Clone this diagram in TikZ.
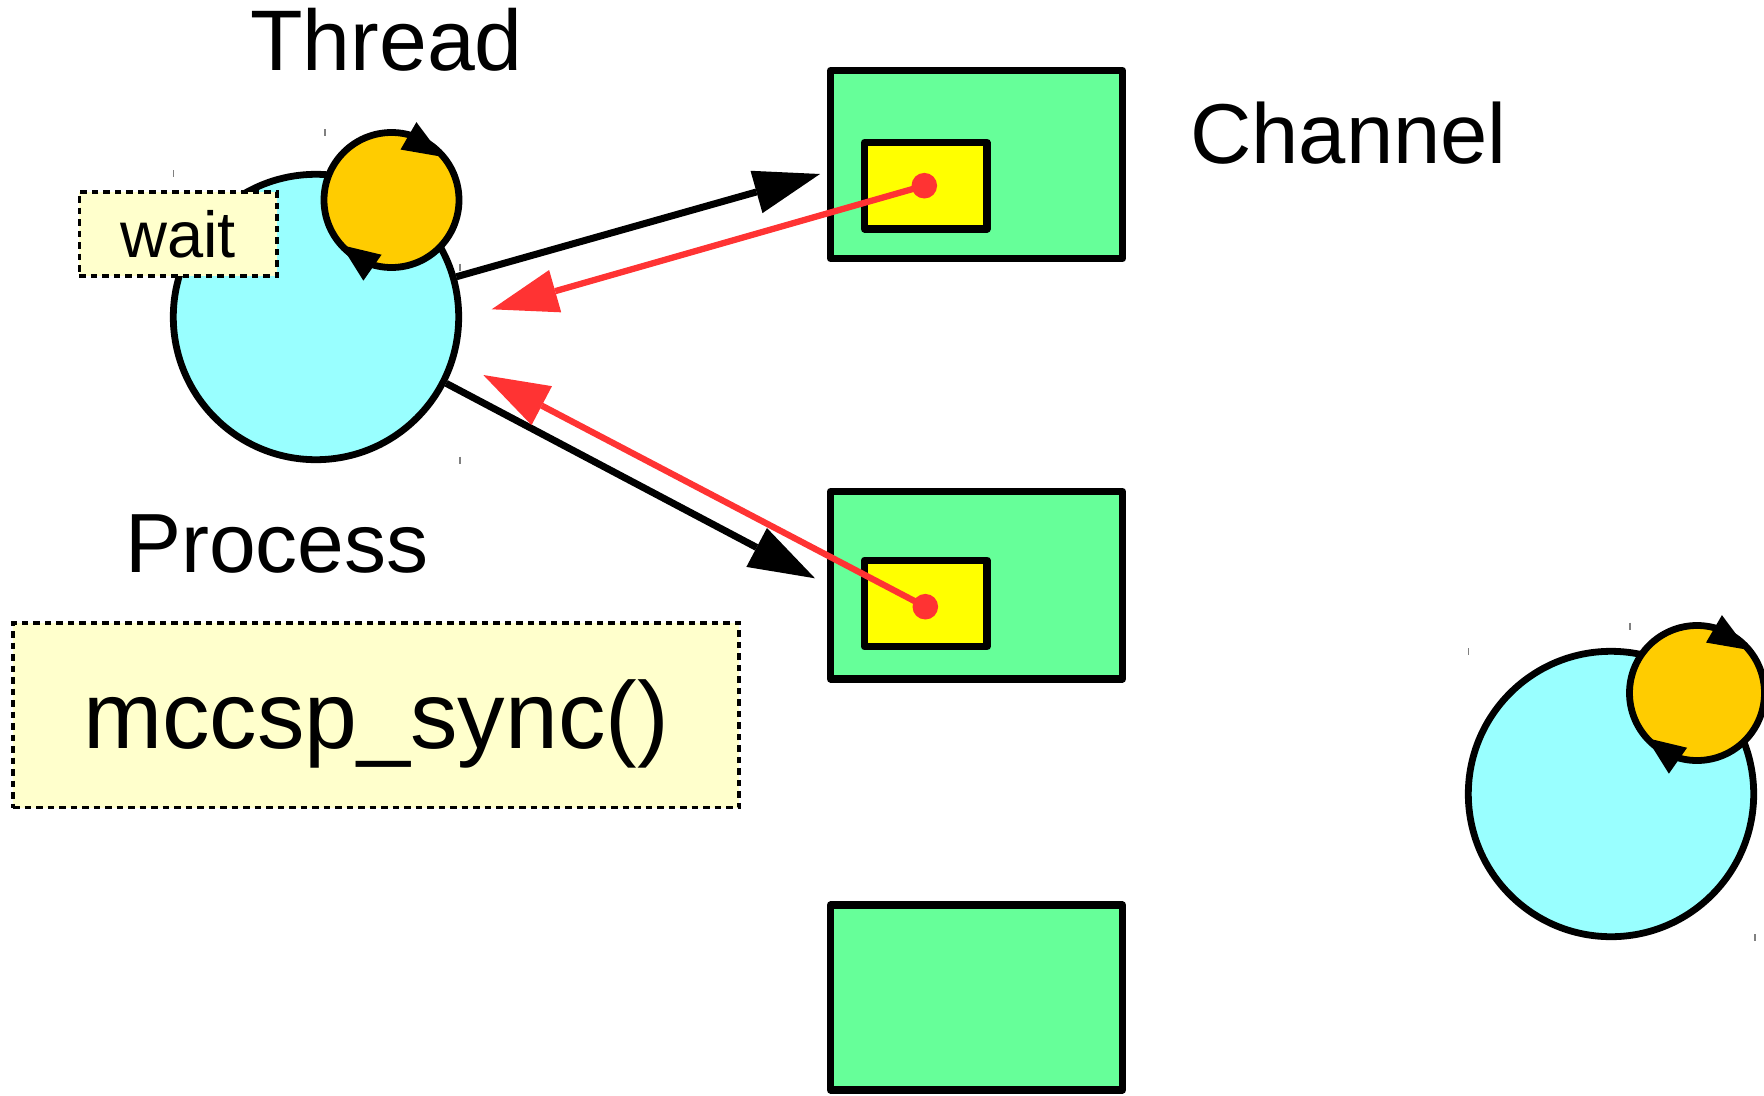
\documentclass[tikz,border=0pt]{standalone}
\usepackage{fontspec}
\setmainfont{Liberation Sans}
\usetikzlibrary{arrows.meta}
\definecolor{procfill}{HTML}{99FFFF}
\definecolor{threadfill}{HTML}{FFCC00}
\definecolor{chanfill}{HTML}{66FF99}
\definecolor{slotfill}{HTML}{FFFF00}
\definecolor{notefill}{HTML}{FFFFCC}
\definecolor{msgred}{HTML}{FF3333}
\definecolor{tickgrey}{HTML}{808080}
% arrowheads that circle round a thread ball (relative to its centre)
\newcommand{\spinheads}[1]{%
  \begin{scope}[shift={(#1)}]
    \filldraw[line width=1.5pt, line join=miter] (25,-76.5) -- (10.2,-51) -- (49,-44.3) -- cycle;
    \filldraw[line width=1.5pt, line join=miter] (-28.1,79.3) -- (-48.8,46.2) -- (-11.2,55.2) -- cycle;
  \end{scope}}
\begin{document}
\begin{tikzpicture}[x=1pt,y=-1pt,
  proc/.style={circle, draw=black, fill=procfill, line width=6.8pt, minimum size=285.4pt, inner sep=0pt},
  thr/.style={circle, draw=black, fill=threadfill, line width=6.8pt, minimum size=135pt, inner sep=0pt},
  chan/.style={draw=black, fill=chanfill, line width=7.2pt, line join=round, minimum width=292pt, inner sep=0pt},
  slot/.style={draw=black, fill=slotfill, line width=7.2pt, line join=round, minimum width=122.5pt, minimum height=86.5pt, inner sep=0pt},
  msgdot/.style={circle, fill=msgred, minimum size=25.6pt, inner sep=0pt},
  note/.style={draw=black, dash pattern=on 6.5pt off 5pt, line width=3.5pt, fill=notefill, inner sep=0pt},
  send/.style={draw=black, line width=7pt, -{Triangle[length=66pt,width=44pt,line width=0pt]}},
  reply/.style={draw=msgred, color=msgred, line width=6.3pt, -{Triangle[length=66pt,width=44pt,line width=0pt]}},
  tick/.style={draw=tickgrey, line width=1.5pt},
  lbl/.style={anchor=base west, inner sep=0pt},
]
\useasboundingbox (0,0) rectangle (1764,1095);

% channels with their slots
\node[chan, minimum height=188pt] (ch1) at (976.5,164.5) {};
\node[chan, minimum height=187.5pt] (ch2) at (976.5,585.25) {};
\node[chan, minimum height=185pt] (ch3) at (976.5,997.5) {};
\node[slot] (s1) at (925.75,185.75) {};
\node[slot] (s2) at (925.75,603.5) {};
\node[msgdot] (d1) at (924.3,185.7) {};
\node[msgdot] (d2) at (925.3,606.7) {};

% processes with their threads
\node[proc] (P) at (316,317) {};
\node[thr] (T) at (391.5,200) {};
\spinheads{391.5,200}
\node[proc] (Q) at (1611,794) {};
\node[thr] (U) at (1697,693) {};
\spinheads{1697,693}

% notes
\node[note, minimum width=197.5pt, minimum height=84pt,
      font=\fontsize{65}{78}\selectfont, text height=46pt, text depth=0pt]
      (wait) at (178,234) {wait};
\node[note, minimum width=726pt, minimum height=184.5pt,
      font=\fontsize{95}{114}\selectfont, text height=69pt, text depth=3pt]
      (sync) at (376,715.25) {mccsp\_sync()};

% messages
\coordinate (e1) at (820,174);
\coordinate (e2) at (815,578.3);
\coordinate (r1) at (491.7,309.3);
\coordinate (r2) at (483.3,375);
\draw[send] (P.16) -- (e1);
\draw[send] (P.-27) -- (e2);
\draw[reply] (d1.center) -- (r1);
\draw[reply] (d2.center) -- (r2);

% labels
\node[lbl, font=\fontsize{86}{100}\selectfont] (thread) at (250,70) {Thread};
\node[lbl, font=\fontsize{85}{100}\selectfont] (channel) at (1190,163) {Channel};
\node[lbl, font=\fontsize{84}{100}\selectfont] (process) at (125,572) {Process};

% small marks
\foreach \x/\y in {325/132.5, 173.3/173.5, 460/267, 460/460, 1630/626, 1468.3/651.7, 1755/937.7}
  \draw[tick] (\x,\y-3.5) -- (\x,\y+3.5);
\end{tikzpicture}
\end{document}
